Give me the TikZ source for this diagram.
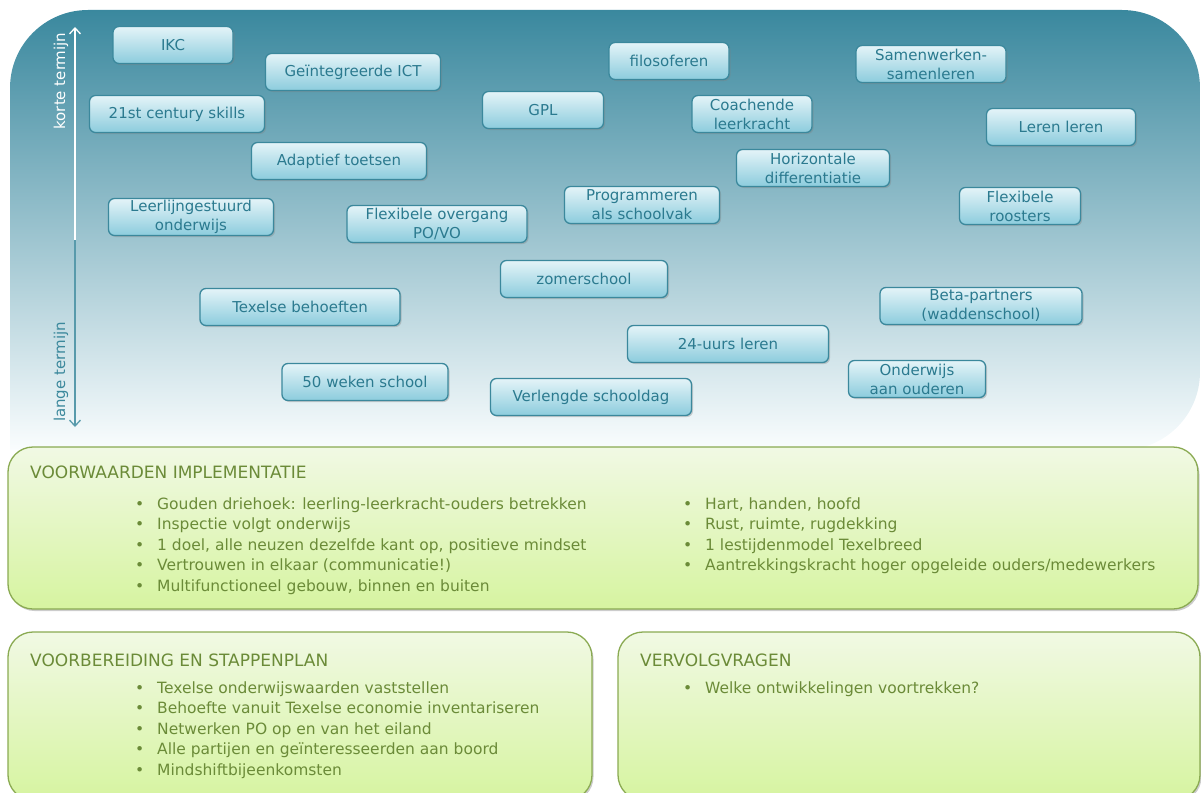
\documentclass[tikz,border=0pt]{standalone}
\usepackage{fontspec}
\setmainfont{DejaVu Sans}
\usetikzlibrary{shadows}
\usetikzlibrary{arrows.meta}
\definecolor{paneelboven}{HTML}{3A889E}
\definecolor{paneelmidden}{HTML}{ADD8E4}
\definecolor{paneelonder}{HTML}{FAFDFE}
\definecolor{ideerand}{HTML}{3B889C}
\definecolor{ideeboven}{HTML}{E4F4F8}
\definecolor{ideeonder}{HTML}{8CCCDD}
\definecolor{ideetekst}{HTML}{2B7A8F}
\definecolor{groenrand}{HTML}{8AAA52}
\definecolor{groenboven}{HTML}{F1F9E4}
\definecolor{groenonder}{HTML}{D6F4A0}
\definecolor{groentekst}{HTML}{6B8B38}

\begin{document}
\begin{tikzpicture}[x=1pt,y=-1pt,
	idee/.style={draw=ideerand, line width=1.3pt, rounded corners=6pt,
		top color=ideeboven, bottom color=ideeonder, text=ideetekst,
		font=\fontsize{15}{19}\selectfont, minimum height=37pt, align=center,
		inner sep=1pt, drop shadow={opacity=0.35, shadow xshift=1.5pt, shadow yshift=-1.5pt}},
	blok/.style={draw=groenrand, line width=1.3pt, rounded corners=25pt,
		top color=groenboven, bottom color=groenonder,
		drop shadow={opacity=0.4, shadow xshift=1.5pt, shadow yshift=-2pt}},
	kop/.style={anchor=base west, inner sep=0pt, text=groentekst, font=\fontsize{17}{17}\selectfont},
	punt/.style={anchor=base west, inner sep=0pt, text=groentekst, font=\fontsize{15.5}{18}\selectfont},
	as/.style={line width=1.3pt, -{Straight Barb[length=6pt,width=11pt]}},
	termijn/.style={rotate=90, inner sep=0pt, font=\fontsize{15}{15}\selectfont}]
		\useasboundingbox (0,0) rectangle (1201,792);
		% bovenpaneel
		\shade[top color=paneelboven, middle color=paneelmidden, bottom color=paneelonder, rounded corners=78pt]
			(10,450) -- (10,10) -- (1200,10) -- (1200,450) [sharp corners] -- cycle;
		% as korte/lange termijn
		\coordinate (asboven) at (75,27);
		\coordinate (asmidden) at (75,240);
		\coordinate (asonder) at (75,427);
		\draw[as, white] (asmidden) -- (asboven);
		\draw[as, ideerand!85] (asmidden) -- (asonder);
		\node[termijn, text=white] (korte) at (61,81) {korte termijn};
		\node[termijn, text=ideerand] (lange) at (61,372) {lange termijn};
		%
		\node[idee, minimum width=120pt] (ikc) at (173,45) {IKC};
		\node[idee, minimum width=175pt] (ict) at (353,72) {Geïntegreerde ICT};
		\node[idee, minimum width=175pt] (skills) at (177,114) {21st century skills};
		\node[idee, minimum width=175pt] (toetsen) at (339,161) {Adaptief toetsen};
		\node[idee, minimum width=165pt] (leerlijn) at (191,217) {Leerlijngestuurd\\onderwijs};
		\node[idee, minimum width=180pt] (overgang) at (437,224) {Flexibele overgang\\PO/VO};
		\node[idee, minimum width=121pt] (gpl) at (543,110) {GPL};
		\node[idee, minimum width=120pt] (filo) at (669,61) {filosoferen};
		\node[idee, minimum width=120pt] (coach) at (752,114) {Coachende\\leerkracht};
		\node[idee, minimum width=153pt] (horizontaal) at (813,168) {Horizontale\\differentiatie};
		\node[idee, minimum width=155pt] (programmeren) at (642,205) {Programmeren\\als schoolvak};
		\node[idee, minimum width=150pt] (samen) at (931,64) {Samenwerken-\\samenleren};
		\node[idee, minimum width=149pt] (leren) at (1061,127) {Leren leren};
		\node[idee, minimum width=121pt] (roosters) at (1020,206) {Flexibele\\roosters};
		\node[idee, minimum width=167pt] (zomer) at (584,279) {zomerschool};
		\node[idee, minimum width=200pt] (behoeften) at (300,307) {Texelse behoeften};
		\node[idee, minimum width=202pt] (beta) at (981,306) {Beta-partners\\(waddenschool)};
		\node[idee, minimum width=201pt] (uurs) at (728,344) {24-uurs leren};
		\node[idee, minimum width=166pt] (weken) at (365,382) {50 weken school};
		\node[idee, minimum width=201pt] (verlengd) at (591,397) {Verlengde schooldag};
		\node[idee, minimum width=137pt] (ouderen) at (917,379) {Onderwijs\\aan ouderen};
		%
		\draw[blok] (8,447) rectangle (1198,609);
		\draw[blok] (8,632) rectangle (592,800);
		\draw[blok] (618,632) rectangle (1200,800);
		%
		\node[kop] (voorwaarden) at (30,478) {VOORWAARDEN IMPLEMENTATIE};
		\foreach \t [count=\i] in {{Gouden driehoek: leerling-leerkracht-ouders betrekken},
				Inspectie volgt onderwijs,
				{1 doel, alle neuzen dezelfde kant op, positieve mindset},
				Vertrouwen in elkaar (communicatie!),
				{Multifunctioneel gebouw, binnen en buiten}}
			\node[punt] (vw\i) at (135,509+\i*20.5-20.5) {\makebox[22pt][l]{\textbullet}\t};
		\foreach \t [count=\i] in {{Hart, handen, hoofd},
				{Rust, ruimte, rugdekking},
				1 lestijdenmodel Texelbreed,
				Aantrekkingskracht hoger opgeleide ouders/medewerkers}
			\node[punt] (vr\i) at (683,509+\i*20.5-20.5) {\makebox[22pt][l]{\textbullet}\t};
		%
		\node[kop] (voorbereiding) at (30,666) {VOORBEREIDING EN STAPPENPLAN};
		\foreach \t [count=\i] in {Texelse onderwijswaarden vaststellen,
				Behoefte vanuit Texelse economie inventariseren,
				Netwerken PO op en van het eiland,
				Alle partijen en geïnteresseerden aan boord,
				Mindshiftbijeenkomsten}
			\node[punt] (vb\i) at (135,693+\i*20.6-20.6) {\makebox[22pt][l]{\textbullet}\t};
		%
		\node[kop] (vervolg) at (640,666) {VERVOLGVRAGEN};
		\node[punt] (vv1) at (683,693) {\makebox[22pt][l]{\textbullet}Welke ontwikkelingen voortrekken?};
	\end{tikzpicture}
\end{document}
